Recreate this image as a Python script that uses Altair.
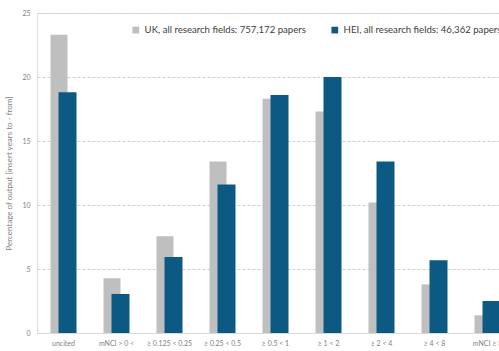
import altair as alt
import pandas as pd

categories = ["uncited", "mNCI > 0 <", "≥ 0.125 < 0.25", "≥ 0.25 < 0.5", "≥ 0.5 < 1",
              "≥ 1 < 2", "≥ 2 < 4", "≥ 4 < 8", "mNCI ≥ 8"]
uk_values = [23.3, 4.27, 7.55, 13.4, 18.3, 17.3, 10.2, 3.8, 1.38]
hei_values = [18.8, 3.05, 5.94, 11.6, 18.6, 20.0, 13.4, 5.68, 2.5]
series_names = ["UK, all research fields: 757,172 papers",
                "HEI, all research fields: 46,362 papers"]
y_ticks = [0, 5, 10, 15, 20, 25]

rows = []
for c, u, h in zip(categories, uk_values, hei_values):
    rows.append({"cat": c, "series": series_names[0], "value": u})
    rows.append({"cat": c, "series": series_names[1], "value": h})
df = pd.DataFrame(rows)

FONT = "Lato"
GRAY_TXT = "#7f7f7f"

x_enc = alt.X("cat:N", sort=categories,
              scale=alt.Scale(range=[0, 477], paddingInner=0, paddingOuter=0),
              axis=alt.Axis(title=None, labelAngle=0, labelFontSize=7, labelColor=GRAY_TXT,
                            labelFont=FONT, ticks=False, domainColor="#d9d9d9",
                            labelPadding=6, grid=False, labelOverlap=False))
y_enc = alt.Y("value:Q", scale=alt.Scale(domain=[0, 25], nice=False),
              axis=alt.Axis(values=y_ticks, title="Percentage of output [insert years to - from]",
                            titleFontSize=8, titleFontWeight="normal", titleColor=GRAY_TXT,
                            titleFont=FONT, titlePadding=8,
                            labelFontSize=7, labelColor=GRAY_TXT, labelFont=FONT,
                            ticks=False, domain=False, labelPadding=7,
                            grid=True, gridDash=[3, 2], gridColor="#d0d0d0"))
color_enc = alt.Color("series:N", sort=series_names,
                      scale=alt.Scale(domain=series_names, range=["#bfbfbf", "#0c5a84"]),
                      legend=alt.Legend(title=None, orient="none", legendX=94, legendY=12,
                                        direction="horizontal", symbolType="square",
                                        symbolSize=45, symbolStrokeWidth=0,
                                        labelFontSize=9.6, labelFont=FONT, labelColor="#404040",
                                        labelLimit=400, columnPadding=24, symbolOffset=0))

gray = alt.Chart(df).transform_filter(alt.datum.series == series_names[0]).mark_bar(
    size=17, xOffset=-4.5).encode(x=x_enc, y=y_enc, color=color_enc)
blue = alt.Chart(df).transform_filter(alt.datum.series == series_names[1]).mark_bar(
    size=18, xOffset=4).encode(x=x_enc, y=y_enc, color=color_enc)

chart = alt.layer(gray, blue).properties(
    width=462, height=320,
    autosize=alt.AutoSizeParams(type="none"),
    padding={"left": 37, "top": 13, "right": 0, "bottom": 18},
).configure_view(stroke=None).configure(background="white")

chart.save("out.html", embed_options={"renderer": "svg", "actions": False})
